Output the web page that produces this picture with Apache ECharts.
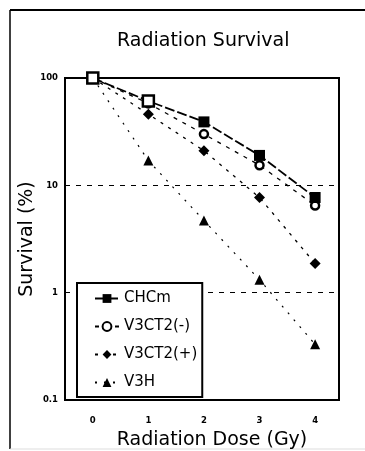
<!DOCTYPE html>
<html><head><meta charset="utf-8">
<script src="https://cdn.jsdelivr.net/npm/echarts@6/dist/echarts.min.js"></script>
<style>html,body{margin:0;padding:0;background:#fff}#c{width:365px;height:451px}</style>
</head><body><div id="c"></div>
<script>
const doses = [0, 1, 2, 3, 4];
const xTicks = [0, 1, 2, 3, 4];
const yTicks = [0.1, 1, 10, 100];
const chcm = [100, 61, 39, 19, 7.7];
const v3ct2Neg = [100, 58, 30, 15.4, 6.5];
const v3ct2Pos = [100, 46, 21, 7.7, 1.87];
const v3h = [100, 17, 4.7, 1.32, 0.33];
const names = ['CHCm', 'V3CT2(-)', 'V3CT2(+)', 'V3H'];

const font = 'DejaVu Sans';
const pair = (vals) => doses.map((d, i) => [d, vals[i]]);

const chart = echarts.init(document.getElementById('c'), null, {renderer: 'canvas'});
chart.setOption({
  backgroundColor: '#fff',
  animation: false,
  title: {
    text: 'Radiation Survival', left: 112, top: 27,
    textStyle: {fontFamily: font, fontSize: 19, fontWeight: 'normal', color: '#000'}
  },
  grid: {left: 65, right: 26, top: 78, bottom: 51, outerBoundsMode: 'none', show: true, borderColor: '#000', borderWidth: 2, backgroundColor: 'transparent'},
  legend: {
    orient: 'vertical', left: 77, top: 283, width: 126,
    padding: [8, 5, 7, 17],
    itemGap: 13, itemWidth: 24, itemHeight: 11,
    borderColor: '#000', borderWidth: 2, backgroundColor: '#fff',
    textStyle: {fontFamily: font, fontSize: 15, color: '#000', padding: [0, 0, 0, 0]},
    data: names
  },
  xAxis: {
    type: 'value', min: -0.5, max: 4.43,
    name: 'Radiation Dose (Gy)', nameLocation: 'middle', nameGap: 31, nameMoveOverlap: false,
    nameTextStyle: {fontFamily: font, fontSize: 19, color: '#000', padding: [0, 0, 0, 20]},
    axisLine: {show: true, lineStyle: {color: '#000', width: 2}},
    axisTick: {show: false},
    splitLine: {show: false},
    axisLabel: {customValues: xTicks, margin: 16, fontFamily: 'DejaVu Sans', fontSize: 8.5, fontWeight: 'bold', color: '#000'}
  },
  yAxis: {
    type: 'log', logBase: 10, min: 0.1, max: 100,
    name: 'Survival (%)', nameLocation: 'middle', nameGap: 28, nameMoveOverlap: false,
    nameTextStyle: {fontFamily: font, fontSize: 19, color: '#000'},
    axisLine: {show: true, onZero: false, lineStyle: {color: '#000', width: 2}},
    axisTick: {show: false},
    axisLabel: {customValues: yTicks, margin: 7, fontFamily: 'DejaVu Sans', fontSize: 8.5, fontWeight: 'bold', color: '#000',
      formatter: (v) => String(v)},
    splitLine: {show: true, lineStyle: {color: '#000', width: 1.2, type: [5, 6]}}
  },
  series: [
    {
      name: 'V3H', type: 'line', data: pair(v3h), symbol: 'triangle', symbolSize: 10,
      itemStyle: {color: '#000'}, lineStyle: {color: '#000', width: 1.2, type: [2, 7]}
    },
    {
      name: 'V3CT2(+)', type: 'line', data: pair(v3ct2Pos), symbol: 'diamond', symbolSize: 11,
      itemStyle: {color: '#000'}, lineStyle: {color: '#000', width: 1.3, type: [3, 6]}
    },
    {
      name: 'V3CT2(-)', type: 'line', data: pair(v3ct2Neg), symbol: 'circle', symbolSize: 8,
      itemStyle: {color: '#fff', borderColor: '#000', borderWidth: 2.5}, lineStyle: {color: '#000', width: 1.3, type: [4, 6]}
    },
    {
      name: 'CHCm', type: 'line', symbol: 'rect', symbolSize: 11,
      data: pair(chcm).map((p, i) => i < 2 ? {value: p, itemStyle: {color: '#fff', borderColor: '#000', borderWidth: 2.5}} : {value: p}),
      itemStyle: {color: '#000'}, lineStyle: {color: '#000', width: 1.8, type: [10, 3]}
    }
  ],
  graphic: [
    {type: 'line', shape: {x1: 10, y1: 10, x2: 365, y2: 10}, style: {stroke: '#000', lineWidth: 2}},
    {type: 'line', shape: {x1: 10, y1: 10, x2: 10, y2: 449}, style: {stroke: '#000', lineWidth: 1.5}},
    {type: 'line', shape: {x1: 10, y1: 449, x2: 365, y2: 449}, style: {stroke: '#ddd', lineWidth: 1}}
  ]
});
</script>
</body></html>
